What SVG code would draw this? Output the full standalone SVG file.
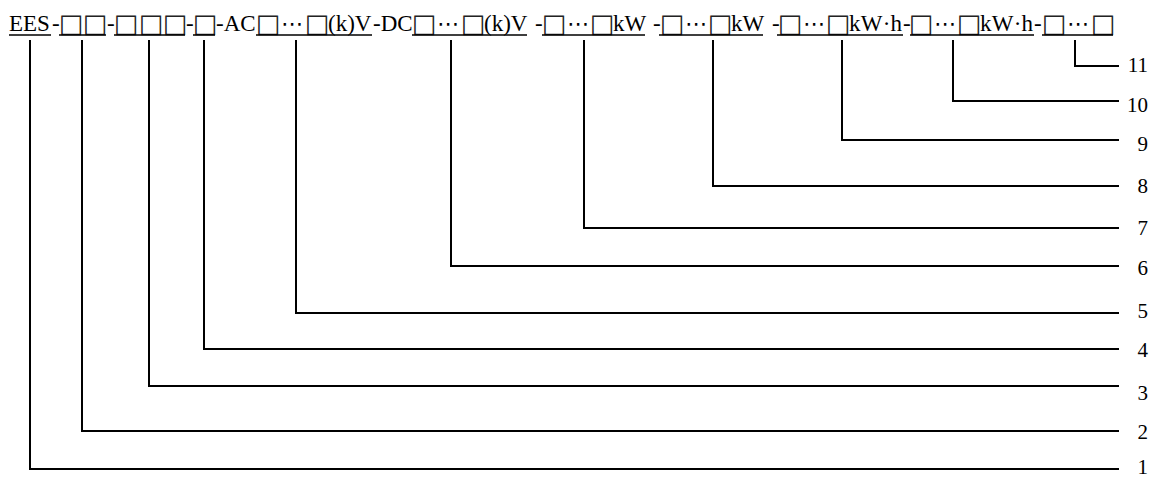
<svg xmlns="http://www.w3.org/2000/svg" width="1151" height="479" viewBox="0 0 1151 479">
<style>
.t{font-family:"Liberation Serif","Times New Roman",serif;font-size:23px;fill:#000}
.b{font-family:"DejaVu Sans",sans-serif;font-size:26px;fill:#222;text-anchor:middle}
.e{font-family:"DejaVu Sans",sans-serif;font-size:22px;fill:#000;text-anchor:middle}
.n{font-family:"Liberation Serif","Times New Roman",serif;font-size:21px;fill:#000;text-anchor:end}
.u{stroke:#000;stroke-width:1.5;fill:none}
.c{stroke:#000;stroke-width:2;fill:none}
</style>
<rect width="1151" height="479" fill="#fff"/>
<g id="code">
<text class="t" x="9" y="31">EES</text>
<text class="t" x="52" y="31">-</text>
<text class="b" x="71" y="32">□</text><text class="b" x="95" y="32">□</text>
<text class="t" x="107" y="31">-</text>
<text class="b" x="126" y="32">□</text><text class="b" x="151" y="32">□</text><text class="b" x="175" y="32">□</text>
<text class="t" x="186" y="31">-</text>
<text class="b" x="205" y="32">□</text>
<text class="t" x="216" y="31">-AC</text>
<text class="b" x="268" y="32">□</text><text class="e" x="292" y="31">⋯</text><text class="b" x="317" y="32">□</text>
<text class="t" x="328" y="31">(k)V</text>
<text class="t" x="373" y="31">-DC</text>
<text class="b" x="424" y="32">□</text><text class="e" x="448" y="31">⋯</text><text class="b" x="473" y="32">□</text>
<text class="t" x="484" y="31">(k)V</text>
<text class="t" x="535" y="31">-</text>
<text class="b" x="554" y="32">□</text><text class="e" x="578" y="31">⋯</text><text class="b" x="602" y="32">□</text>
<text class="t" x="613" y="31">kW</text>
<text class="t" x="653" y="31">-</text>
<text class="b" x="672" y="32">□</text><text class="e" x="696" y="31">⋯</text><text class="b" x="720" y="32">□</text>
<text class="t" x="731" y="31">kW</text>
<text class="t" x="772" y="31">-</text>
<text class="b" x="790" y="32">□</text><text class="e" x="814" y="31">⋯</text><text class="b" x="838" y="32">□</text>
<text class="t" x="849" y="31" textLength="53" lengthAdjust="spacing">kW·h</text>
<text class="t" x="903" y="31">-</text>
<text class="b" x="921" y="32">□</text><text class="e" x="945" y="31">⋯</text><text class="b" x="969" y="32">□</text>
<text class="t" x="980" y="31" textLength="53" lengthAdjust="spacing">kW·h</text>
<text class="t" x="1034" y="31">-</text>
<text class="b" x="1054" y="32">□</text><text class="e" x="1078" y="31">⋯</text><text class="b" x="1103" y="32">□</text>
<path class="u" d="M9 35H51M59 35H106M114 35H185M193 35H215M256 35H372M412 35H527M542 35H645M659 35H763M777 35H903M910 35H1034M1042 35H1113"/>
</g>
<g id="connectors">
<path class="c" d="M30 40V469H1119"/>
<path class="c" d="M82 40V431H1119"/>
<path class="c" d="M149 40V386H1119"/>
<path class="c" d="M204 40V349H1119"/>
<path class="c" d="M296 40V313H1119"/>
<path class="c" d="M451 40V266H1119"/>
<path class="c" d="M584 40V228H1119"/>
<path class="c" d="M713 40V186H1119"/>
<path class="c" d="M842 40V140H1119"/>
<path class="c" d="M953 40V101H1119"/>
<path class="c" d="M1075 40V66H1119"/>
</g>
<g id="label-1"><text class="n" x="1148" y="474">1</text></g>
<g id="label-2"><text class="n" x="1148" y="439">2</text></g>
<g id="label-3"><text class="n" x="1148" y="400">3</text></g>
<g id="label-4"><text class="n" x="1148" y="357">4</text></g>
<g id="label-5"><text class="n" x="1148" y="318">5</text></g>
<g id="label-6"><text class="n" x="1148" y="275">6</text></g>
<g id="label-7"><text class="n" x="1148" y="235">7</text></g>
<g id="label-8"><text class="n" x="1148" y="193">8</text></g>
<g id="label-9"><text class="n" x="1148" y="151">9</text></g>
<g id="label-10"><text class="n" x="1148" y="112">10</text></g>
<g id="label-11"><text class="n" x="1148" y="72">11</text></g>
</svg>
